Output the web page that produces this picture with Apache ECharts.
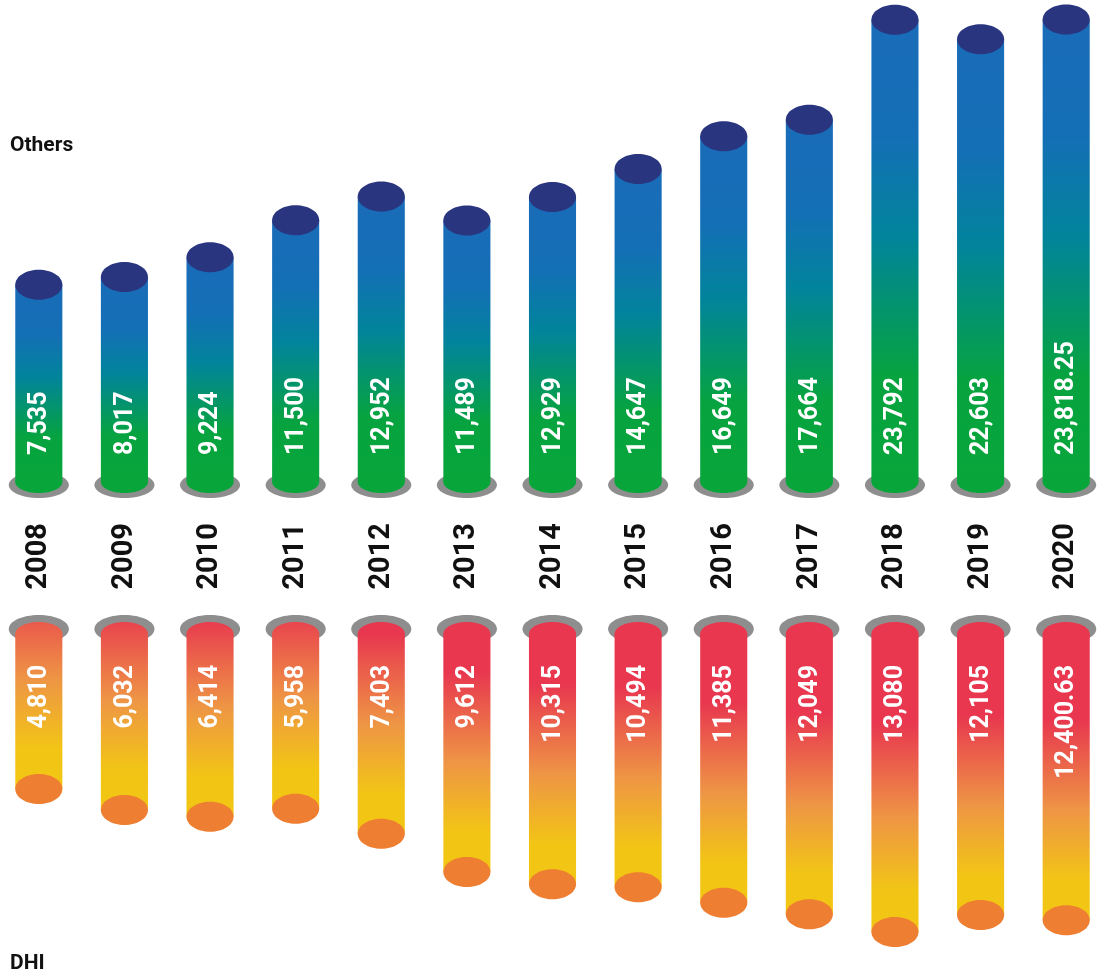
<!DOCTYPE html>
<html>
<head>
<meta charset="utf-8">
<title>Others / DHI</title>
<script src="https://cdn.jsdelivr.net/npm/echarts@6/dist/echarts.min.js"></script>
<style>
  html, body { margin: 0; padding: 0; background: #fff; }
  #main { width: 1097px; height: 979px; }
</style>
</head>
<body>
<div id="main"></div>
<script>
// data
var years = ['2008', '2009', '2010', '2011', '2012', '2013', '2014', '2015', '2016', '2017', '2018', '2019', '2020'];
var othersValues = [7535, 8017, 9224, 11500, 12952, 11489, 12929, 14647, 16649, 17664, 23792, 22603, 23818.25];
var dhiValues = [4810, 6032, 6414, 5958, 7403, 9612, 10315, 10494, 11385, 12049, 13080, 12105, 12400.63];

// axis ranges (bars start at the axis min)
var othersMin = -4560, othersMax = 25010;
var dhiMin = -4150, dhiMax = 15800;

function fmt(v) {
  return v.toLocaleString('en-US', { maximumFractionDigits: 2 });
}

var myChart = echarts.init(document.getElementById('main'), null, { renderer: 'canvas' });

function renderOthers(params, api) {
  var i = api.value(0);
  var v = api.value(1);
  var top = api.coord([i, v]);
  var base = api.coord([i, othersMin]);
  var hw = api.size([1, 0])[0] * 0.275;
  var cx = top[0];
  var grad = {
    type: 'linear', x: 0, y: top[1], x2: 0, y2: base[1], global: true,
    colorStops: [
      { offset: 0, color: '#1a6cb8' },
      { offset: 0.25, color: '#146fb6' },
      { offset: 0.47, color: '#01849b' },
      { offset: 0.77, color: '#06a340' },
      { offset: 1, color: '#08a63a' }
    ]
  };
  return {
    type: 'group',
    children: [
      { type: 'ellipse', shape: { cx: cx, cy: base[1] + 3, rx: hw + 6.5, ry: 13 }, style: { fill: '#8e8e8e' } },
      { type: 'ellipse', shape: { cx: cx, cy: base[1], rx: hw, ry: 11 }, style: { fill: grad } },
      { type: 'rect', shape: { x: cx - hw, y: top[1], width: hw * 2, height: base[1] - top[1] }, style: { fill: grad } },
      { type: 'ellipse', shape: { cx: cx, cy: top[1], rx: hw, ry: 15 }, style: { fill: '#29357f' } },
      {
        type: 'text', x: cx + 1, y: base[1] - 27, rotation: Math.PI / 2,
        style: { text: fmt(v), fill: '#fff', font: 'bold 25px Roboto', align: 'left', verticalAlign: 'middle' }
      }
    ]
  };
}

function renderDhi(params, api) {
  var i = api.value(0);
  var v = api.value(1);
  var end = api.coord([i, v]);
  var base = api.coord([i, dhiMin]);
  var hw = api.size([1, 0])[0] * 0.275;
  var cx = end[0];
  var len = end[1] - base[1];
  var span = Math.max(200, len * 0.7);
  var grad = {
    type: 'linear', x: 0, y: end[1], x2: 0, y2: end[1] - span, global: true,
    colorStops: [
      { offset: 0, color: '#f2c613' },
      { offset: 0.2, color: '#f2c515' },
      { offset: 0.55, color: '#ee9545' },
      { offset: 1, color: '#e8374f' }
    ]
  };
  return {
    type: 'group',
    children: [
      { type: 'ellipse', shape: { cx: cx, cy: base[1] - 5, rx: hw + 6.5, ry: 14 }, style: { fill: '#8e8e8e' } },
      { type: 'ellipse', shape: { cx: cx, cy: base[1], rx: hw, ry: 12 }, style: { fill: grad } },
      { type: 'rect', shape: { x: cx - hw, y: base[1], width: hw * 2, height: len }, style: { fill: grad } },
      { type: 'ellipse', shape: { cx: cx, cy: end[1], rx: hw, ry: 15 }, style: { fill: '#ee7e31' } },
      {
        type: 'text', x: cx + 1, y: base[1] + 31, rotation: Math.PI / 2,
        style: { text: fmt(v), fill: '#fff', font: 'bold 25px Roboto', align: 'right', verticalAlign: 'middle' }
      }
    ]
  };
}

var option = {
  backgroundColor: '#fff',
  animation: false,
  graphic: [
    { type: 'text', x: 10, y: 146, style: { text: 'Others', font: 'bold 21px Roboto', fill: '#111', verticalAlign: 'middle' } },
    { type: 'text', x: 10, y: 964, style: { text: 'DHI', font: 'bold 21px Roboto', fill: '#111', verticalAlign: 'middle' } }
  ],
  grid: [
    { left: -4, width: 1113, top: 0, height: 482, containLabel: false, outerBoundsMode: 'none' },
    { left: -4, width: 1113, top: 634, height: 345, containLabel: false, outerBoundsMode: 'none' }
  ],
  xAxis: [
    {
      type: 'category', gridIndex: 0, data: years,
      axisLine: { show: false }, axisTick: { show: false }, splitLine: { show: false },
      axisLabel: { rotate: 90, margin: 41, fontSize: 29, fontWeight: 'bold', fontFamily: 'Roboto', color: '#111' }
    },
    {
      type: 'category', gridIndex: 1, data: years, show: false
    }
  ],
  yAxis: [
    { type: 'value', gridIndex: 0, min: othersMin, max: othersMax, show: false, splitLine: { show: false } },
    { type: 'value', gridIndex: 1, min: dhiMin, max: dhiMax, inverse: true, show: false, splitLine: { show: false } }
  ],
  series: [
    {
      name: 'Others', type: 'custom', xAxisIndex: 0, yAxisIndex: 0, clip: false,
      renderItem: renderOthers,
      data: othersValues.map(function (v, i) { return [i, v]; })
    },
    {
      name: 'DHI', type: 'custom', xAxisIndex: 1, yAxisIndex: 1, clip: false,
      renderItem: renderDhi,
      data: dhiValues.map(function (v, i) { return [i, v]; })
    }
  ]
};

myChart.setOption(option);
</script>
</body>
</html>
